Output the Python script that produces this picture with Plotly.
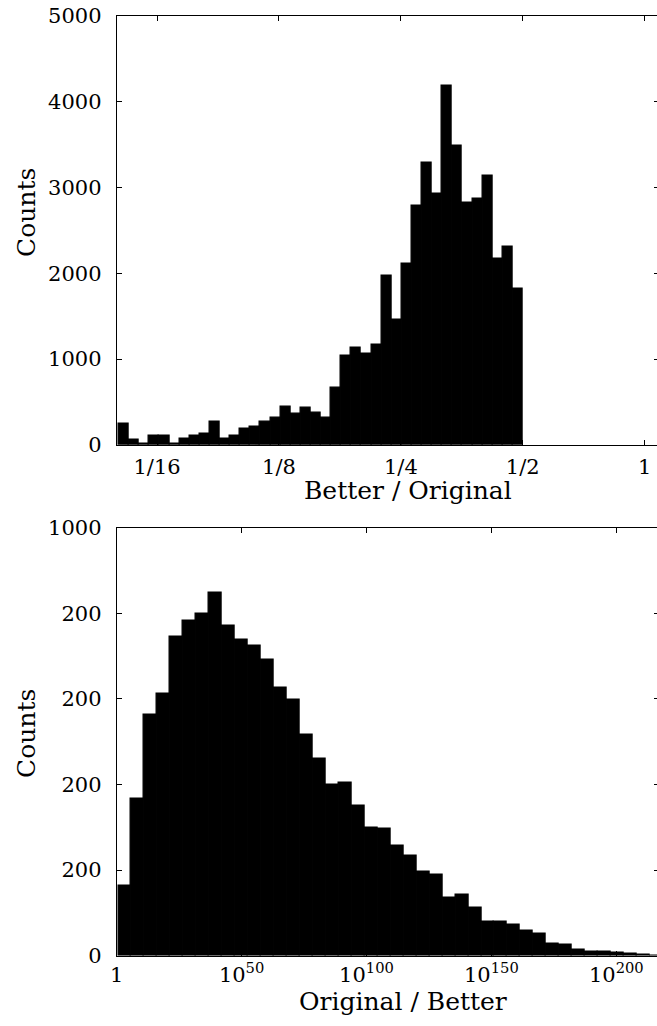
import numpy as np
import plotly.graph_objects as go

# ---- data ----
# Top histogram: Better / Original, bins uniform in log2(ratio)
top_bin_lo_log2 = -4.314
top_bin_hi_log2 = -1.0
top_counts = [245, 58, 12, 105, 105, 12, 74, 113, 128, 276,
              78, 109, 186, 217, 268, 322, 446, 369, 439, 380,
              322, 664, 1040, 1130, 1060, 1172, 1972, 1456, 2116, 2783,
              3292, 2927, 4181, 3490, 2826, 2865, 3140, 2170, 2314, 1821]
top_tick_log2 = [-4, -3, -2, -1, 0]
top_tick_text = ["1/16", "1/8", "1/4", "1/2", "1"]
top_y_ticks = [0, 1000, 2000, 3000, 4000, 5000]
top_y_text = ["0", "1000", "2000", "3000", "4000", "5000"]

# Bottom histogram: Original / Better, bins uniform in log10(ratio)
bot_bin_lo_log10 = 0.6
bot_bin_width_log10 = 5.19
bot_counts = [164, 368, 563, 612, 745, 782, 798, 847, 772, 739,
              725, 692, 626, 597, 517, 460, 400, 405, 350, 299,
              296, 257, 234, 196, 190, 136, 143, 111, 79, 79,
              73, 59, 51, 27, 25, 15, 9, 9, 6, 4, 2, 1]
bot_tick_log10 = [0, 50, 100, 150, 200]
bot_tick_text = ["1", "10<sup>50</sup>", "10<sup>100</sup>", "10<sup>150</sup>", "10<sup>200</sup>"]
bot_y_ticks = [0, 200, 400, 600, 800, 1000]
bot_y_text = ["0", "200", "200", "200", "200", "1000"]

# ---- layout geometry (pixels) ----
W, H = 660, 1026
FONT = "DejaVu Serif"
FS_TICK = 21
FS_TITLE = 25

def px_x(p):
    return p / W

def px_y(p):
    return 1 - p / H

top_edges = np.linspace(top_bin_lo_log2, top_bin_hi_log2, len(top_counts) + 1)
top_centers = (top_edges[:-1] + top_edges[1:]) / 2
top_width = top_edges[1] - top_edges[0]

bot_edges = bot_bin_lo_log10 + bot_bin_width_log10 * np.arange(len(bot_counts) + 1)
bot_centers = (bot_edges[:-1] + bot_edges[1:]) / 2

bar_marker = dict(color="black", line=dict(color="black", width=1.2))
fig = go.Figure()
fig.add_trace(go.Bar(x=top_centers, y=top_counts, width=top_width, marker=bar_marker,
                     xaxis="x", yaxis="y", showlegend=False))
fig.add_trace(go.Bar(x=bot_centers, y=bot_counts, width=bot_bin_width_log10, marker=bar_marker,
                     xaxis="x2", yaxis="y2", showlegend=False))

xdom = [px_x(116.7), px_x(659)]
axis_common = dict(showline=True, linecolor="black", linewidth=1, mirror="ticks",
                   ticks="inside", ticklen=5, tickwidth=1, tickcolor="black",
                   showgrid=False, zeroline=False, automargin=False,
                   tickfont=dict(family=FONT, size=FS_TICK, color="black"))

fig.update_layout(
    width=W, height=H,
    margin=dict(l=0, r=0, t=0, b=0, autoexpand=False),
    paper_bgcolor="white", plot_bgcolor="white",
    bargap=0,
    font=dict(family=FONT, size=FS_TICK, color="black"),
    xaxis=dict(domain=xdom, anchor="y", range=[-4.331, 0.118],
               tickmode="array", tickvals=top_tick_log2, ticktext=top_tick_text,
               ticklabelstandoff=3, **axis_common),
    yaxis=dict(domain=[px_y(445), px_y(15.7)], anchor="x", range=[0, 5000],
               tickmode="array", tickvals=top_y_ticks, ticktext=top_y_text,
               ticklabelstandoff=10, **axis_common),
    xaxis2=dict(domain=xdom, anchor="y2", range=[0, 217.1],
                tickmode="array", tickvals=bot_tick_log10, ticktext=bot_tick_text,
                ticklabelstandoff=0, **axis_common),
    yaxis2=dict(domain=[px_y(955.7), px_y(527.7)], anchor="x2", range=[0, 1000],
                tickmode="array", tickvals=bot_y_ticks, ticktext=bot_y_text,
                ticklabelstandoff=10, **axis_common),
)

ann = dict(xref="paper", yref="paper", showarrow=False,
           font=dict(family=FONT, size=FS_TITLE, color="black"))
fig.add_annotation(text="Better / Original", x=px_x(408), y=px_y(490),
                   xanchor="center", yanchor="middle", **ann)
fig.add_annotation(text="Original / Better", x=px_x(403), y=px_y(1001),
                   xanchor="center", yanchor="middle", **ann)
fig.add_annotation(text="Counts", x=px_x(26), y=px_y(212), textangle=-90,
                   xanchor="center", yanchor="middle", **ann)
fig.add_annotation(text="Counts", x=px_x(26), y=px_y(733), textangle=-90,
                   xanchor="center", yanchor="middle", **ann)

fig.write_html("out.html")
